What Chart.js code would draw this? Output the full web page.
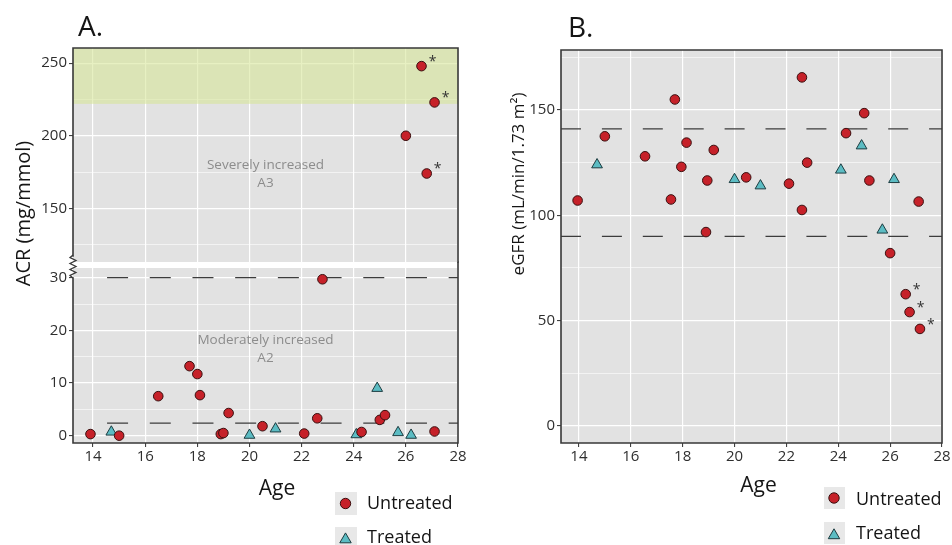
<!DOCTYPE html>
<html><head><meta charset="utf-8">
<script src="https://cdn.jsdelivr.net/npm/chart.js@4.4.1/dist/chart.umd.min.js"></script>
<style>
html,body{margin:0;padding:0;background:#fff;width:952px;height:545px;overflow:hidden}
canvas{position:absolute}
#aTop{left:0;top:0;z-index:3}
#aBot{left:0;top:250px;z-index:2}
#bMain{left:490px;top:0;z-index:1}
</style></head><body>
<canvas id="aTop" width="470" height="300" style="width:470px;height:300px"></canvas>
<canvas id="aBot" width="470" height="295" style="width:470px;height:295px"></canvas>
<canvas id="bMain" width="462" height="545" style="width:462px;height:545px"></canvas>
<script>
// ---------- data ----------
const ageTicks = [14, 16, 18, 20, 22, 24, 26, 28];
const acrHighTicks = [150, 200, 250];
const acrHighMinor = [125, 175, 225];
const acrLowTicks = [0, 10, 20, 30];
const acrLowMinor = [5, 15, 25];
const egfrTicks = [0, 50, 100, 150];
const egfrMinor = [25, 75, 125, 175];
const acrCutoffs = [2.4, 30];
const egfrCutoffs = [90, 141];
const acrSevereBand = [222, 300];

const acrUntreatedAge = [13.9, 15.0, 16.5, 17.7, 18.0, 18.1, 18.9, 19.0, 19.2, 20.5, 22.1, 22.6, 22.8, 24.3, 25.0, 25.2, 27.1, 26.0, 26.6, 26.8, 27.1];
const acrUntreatedVal = [0.3, 0.0, 7.5, 13.2, 11.7, 7.7, 0.3, 0.5, 4.3, 1.8, 0.4, 3.3, 29.7, 0.7, 3.0, 3.9, 0.8, 200, 248, 174, 223];
const acrUntreatedMark = ['', '', '', '', '', '', '', '', '', '', '', '', '', '', '', '', '', '', '*', '*', '*'];
const acrTreatedAge = [14.7, 20.0, 21.0, 24.1, 24.9, 25.7, 26.2];
const acrTreatedVal = [0.7, 0.1, 1.3, 0.2, 9.0, 0.6, 0.1];

const egfrUntreatedAge = [13.95, 15.0, 16.55, 17.55, 17.7, 17.95, 18.15, 18.9, 18.95, 19.2, 20.45, 22.1, 22.6, 22.6, 22.8, 24.3, 25.0, 25.2, 26.0, 26.6, 26.75, 27.1, 27.15];
const egfrUntreatedVal = [107, 137.5, 128, 107.5, 155, 123, 134.5, 92, 116.5, 131, 118, 115, 165.5, 102.5, 125, 139, 148.5, 116.5, 82, 62.5, 54, 106.5, 46];
const egfrUntreatedMark = ['', '', '', '', '', '', '', '', '', '', '', '', '', '', '', '', '', '', '', '*', '*', '', '*'];
const egfrTreatedAge = [14.7, 20.0, 21.0, 24.1, 24.9, 25.7, 26.15];
const egfrTreatedVal = [124, 117, 114, 121.5, 133, 93, 117];

// axis ranges
const ageMinA = 13.23, ageMaxA = 28;
const ageMinB = 13.31, ageMaxB = 28;
const acrHighMin = 113, acrHighMax = 260.5;
const acrLowMin = -1.39, acrLowMax = 31.84;
const egfrMin = -8.2, egfrMax = 178.5;

// ---------- style ----------
const F = '"Open Sans", "DejaVu Sans", sans-serif';
Chart.defaults.font.family = F;
const PANEL = '#e2e2e2', INK = '#151515', TICK = '#2e2e2e', NOTE = '#8c8c8c', EDGE = '#383838', KEYBG = '#e8e8e8';
const RED = '#c62129', RED_EDGE = '#3a1010', TEAL = '#5cbcc3', TEAL_EDGE = '#1d3c40';

const pts = (xs, ys) => xs.map((x, i) => ({x: x, y: ys[i]}));

function untreatedSet(xs, ys) {
  return {type: 'scatter', label: 'Untreated', data: pts(xs, ys), order: 0,
    pointStyle: 'circle', pointRadius: 4.8, pointBackgroundColor: RED, pointBorderColor: RED_EDGE, pointBorderWidth: 1};
}
function treatedSet(xs, ys) {
  return {type: 'scatter', label: 'Treated', data: pts(xs, ys), order: 0,
    pointStyle: 'triangle', pointRadius: 6.2, pointBackgroundColor: TEAL, pointBorderColor: TEAL_EDGE, pointBorderWidth: 1};
}
function cutoffSet(v, x0, x1, dash, off) {
  return {type: 'line', label: 'cut', data: [{x: x0, y: v}, {x: x1, y: v}], order: 1,
    borderColor: '#3c3c3c', borderWidth: 1.3, borderDash: dash, borderDashOffset: off, pointRadius: 0, fill: false};
}

function xScale(min, max, labels, h) {
  return {type: 'linear', min: min, max: max,
    afterBuildTicks: s => { s.ticks = ageTicks.map(v => ({value: v})); },
    afterFit: s => { s.height = h; },
    ticks: {display: labels, color: TICK, font: {size: 15}, padding: 1, maxRotation: 0, autoSkip: false},
    grid: {color: '#ffffff', lineWidth: 1.2, drawTicks: labels, tickLength: 4, tickColor: TICK, tickWidth: 1},
    border: {display: false}};
}
function yScale(min, max, major, minor, w) {
  const all = major.concat(minor).sort((a, b) => a - b);
  const isMaj = v => major.indexOf(v) >= 0;
  return {type: 'linear', min: min, max: max,
    afterBuildTicks: s => { s.ticks = all.map(v => ({value: v})); },
    afterFit: s => { s.width = w; },
    ticks: {color: TICK, font: {size: 15}, padding: 2, autoSkip: false,
      callback: v => isMaj(v) ? String(v) : ''},
    grid: {color: '#ffffff', lineWidth: c => (c.tick && isMaj(c.tick.value)) ? 1.2 : 0.6,
      tickColor: c => (c.tick && isMaj(c.tick.value)) ? TICK : 'rgba(0,0,0,0)', tickLength: 4, tickWidth: 1},
    border: {display: false}};
}

function segs(ctx, list, w) {
  ctx.save(); ctx.strokeStyle = EDGE; ctx.lineWidth = w || 1.6; ctx.lineCap = 'square';
  ctx.beginPath();
  list.forEach(s => { ctx.moveTo(s[0], s[1]); ctx.lineTo(s[2], s[3]); });
  ctx.stroke(); ctx.restore();
}
function text(ctx, t, x, y, size, color, align, base, rot) {
  ctx.save();
  ctx.font = size + 'px ' + F; ctx.fillStyle = color;
  ctx.textAlign = align || 'left'; ctx.textBaseline = base || 'alphabetic';
  ctx.translate(x, y); if (rot) ctx.rotate(rot);
  ctx.fillText(t, 0, 0); ctx.restore();
}
function stars(chart, dsIndex, marks) {
  const ctx = chart.ctx, a = chart.chartArea;
  const meta = chart.getDatasetMeta(dsIndex);
  ctx.save(); ctx.font = '14px ' + F; ctx.fillStyle = '#333'; ctx.textAlign = 'center'; ctx.textBaseline = 'middle';
  meta.data.forEach((p, i) => {
    if (marks[i] && p.y >= a.top - 2 && p.y <= a.bottom + 2) ctx.fillText(marks[i], p.x + 11, p.y - 4);
  });
  ctx.restore();
}
function legendItem(chart, dsIndex, box, cx, cy, tx, ty) {
  const ctx = chart.ctx, ds = chart.data.datasets[dsIndex];
  ctx.save();
  ctx.fillStyle = KEYBG; ctx.fillRect(box[0], box[1], box[2], box[3]);
  ctx.fillStyle = ds.pointBackgroundColor; ctx.strokeStyle = ds.pointBorderColor; ctx.lineWidth = ds.pointBorderWidth;
  Chart.helpers.drawPoint(ctx, {pointStyle: ds.pointStyle, radius: ds.pointRadius + 0.4, borderWidth: ds.pointBorderWidth, rotation: 0}, cx, cy);
  ctx.restore();
  text(ctx, ds.label, tx, ty, 18, INK);
}
const panelBg = {id: 'panelBg', beforeDraw(c) {
  const a = c.chartArea, ctx = c.ctx;
  ctx.save(); ctx.fillStyle = PANEL; ctx.fillRect(a.left, a.top, a.right - a.left, a.bottom - a.top); ctx.restore();
}};

// ---------- Panel A, upper section ----------
new Chart(document.getElementById('aTop'), {
  data: {datasets: [untreatedSet(acrUntreatedAge, acrUntreatedVal), treatedSet(acrTreatedAge, acrTreatedVal)]},
  options: {responsive: false, animation: false, events: [],
    layout: {padding: {left: 0, top: 48, right: 12, bottom: 38}},
    plugins: {legend: {display: false}, tooltip: {enabled: false}},
    scales: {x: xScale(ageMinA, ageMaxA, false, 0), y: yScale(acrHighMin, acrHighMax, acrHighTicks, acrHighMinor, 73)}},
  plugins: [panelBg, {id: 'decoA1',
    beforeDatasetsDraw(c) {
      const a = c.chartArea, ctx = c.ctx, y = c.scales.y;
      const yTop = Math.max(a.top, y.getPixelForValue(acrSevereBand[1]));
      const yBot = y.getPixelForValue(acrSevereBand[0]);
      ctx.save(); ctx.fillStyle = 'rgba(214,230,150,0.58)'; ctx.fillRect(a.left, yTop, a.right - a.left, yBot - yTop); ctx.restore();
    },
    afterDatasetsDraw(c) { stars(c, 0, acrUntreatedMark); },
    afterDraw(c) {
      const a = c.chartArea, ctx = c.ctx, y = c.scales.y;
      segs(ctx, [[a.left, a.top, a.right, a.top], [a.left, a.top, a.left, 256], [a.right, a.top, a.right, a.bottom]]);
      // axis break mark
      ctx.save(); ctx.strokeStyle = EDGE; ctx.lineWidth = 1.3; ctx.beginPath();
      const zz = [[a.left, 255], [a.left - 3, 257.5], [a.left + 3, 260.5], [a.left - 3, 263.5], [a.left + 3, 266.5], [a.left - 3, 269.5], [a.left + 3, 272.5], [a.left - 3, 275.5], [a.left, 278]];
      zz.forEach((p, i) => i ? ctx.lineTo(p[0], p[1]) : ctx.moveTo(p[0], p[1]));
      ctx.stroke(); ctx.restore();
      const cx = (a.left + a.right) / 2;
      const y1 = y.getPixelForValue(180);
      text(ctx, 'Severely increased', cx, y1, 13.5, NOTE, 'center', 'middle');
      text(ctx, 'A3', cx, y1 + 18, 13.5, NOTE, 'center', 'middle');
      text(ctx, 'A.', 78, 36, 28, INK);
      text(ctx, 'ACR (mg/mmol)', 30, 213.5, 20, INK, 'center', 'alphabetic', -Math.PI / 2);
    }}]
});

// ---------- Panel A, lower section ----------
new Chart(document.getElementById('aBot'), {
  data: {datasets: [untreatedSet(acrUntreatedAge, acrUntreatedVal), treatedSet(acrTreatedAge, acrTreatedVal),
    cutoffSet(acrCutoffs[0], 14, ageMaxA, [21, 21.7], 28.7), cutoffSet(acrCutoffs[1], 14, ageMaxA, [21, 21.7], 28.7)]},
  options: {responsive: false, animation: false, events: [],
    layout: {padding: {left: 0, top: 18, right: 12, bottom: 0}},
    plugins: {legend: {display: false}, tooltip: {enabled: false}},
    scales: {x: xScale(ageMinA, ageMaxA, true, 102), y: yScale(acrLowMin, acrLowMax, acrLowTicks, acrLowMinor, 73)}},
  plugins: [panelBg, {id: 'decoA2',
    afterDatasetsDraw(c) { stars(c, 0, acrUntreatedMark); },
    afterDraw(c) {
      const a = c.chartArea, ctx = c.ctx, y = c.scales.y;
      segs(ctx, [[a.left, 28, a.left, a.bottom], [a.right, 12, a.right, a.bottom], [a.left, a.bottom, a.right, a.bottom]]);
      const cx = (a.left + a.right) / 2;
      const y1 = y.getPixelForValue(18.2);
      text(ctx, 'Moderately increased', cx, y1, 13.5, NOTE, 'center', 'middle');
      text(ctx, 'A2', cx, y1 + 18, 13.5, NOTE, 'center', 'middle');
      text(ctx, 'Age', 277, 245, 21, INK, 'center');
      legendItem(c, 0, [335, 242, 22, 23], 345.5, 253.5, 367, 259);
      legendItem(c, 1, [335, 277, 22, 23], 345.5, 289.5, 367, 293);
    }}]
});

// ---------- Panel B ----------
new Chart(document.getElementById('bMain'), {
  data: {datasets: [untreatedSet(egfrUntreatedAge, egfrUntreatedVal), treatedSet(egfrTreatedAge, egfrTreatedVal),
    cutoffSet(egfrCutoffs[0], ageMinB, ageMaxB, [20, 20.9], 0), cutoffSet(egfrCutoffs[1], ageMinB, ageMaxB, [20, 20.9], 0)]},
  options: {responsive: false, animation: false, events: [],
    layout: {padding: {left: 0, top: 50, right: 10, bottom: 0}},
    plugins: {legend: {display: false}, tooltip: {enabled: false}},
    scales: {x: xScale(ageMinB, ageMaxB, true, 102), y: yScale(egfrMin, egfrMax, egfrTicks, egfrMinor, 71)}},
  plugins: [panelBg, {id: 'decoB',
    afterDatasetsDraw(c) { stars(c, 0, egfrUntreatedMark); },
    afterDraw(c) {
      const a = c.chartArea, ctx = c.ctx;
      segs(ctx, [[a.left, a.top, a.right, a.top], [a.left, a.top, a.left, a.bottom], [a.right, a.top, a.right, a.bottom], [a.left, a.bottom, a.right, a.bottom]]);
      text(ctx, 'B.', 78, 37, 28, INK);
      text(ctx, 'eGFR (mL/min/1.73 m\u00B2)', 34, 184, 17, INK, 'center', 'alphabetic', -Math.PI / 2);
      text(ctx, 'Age', 268.5, 492, 21, INK, 'center');
      legendItem(c, 0, [334, 487, 21, 22], 344, 498, 366, 505);
      legendItem(c, 1, [334, 522, 21, 22], 344, 535.4, 366, 539);
    }}]
});
</script>
</body></html>
